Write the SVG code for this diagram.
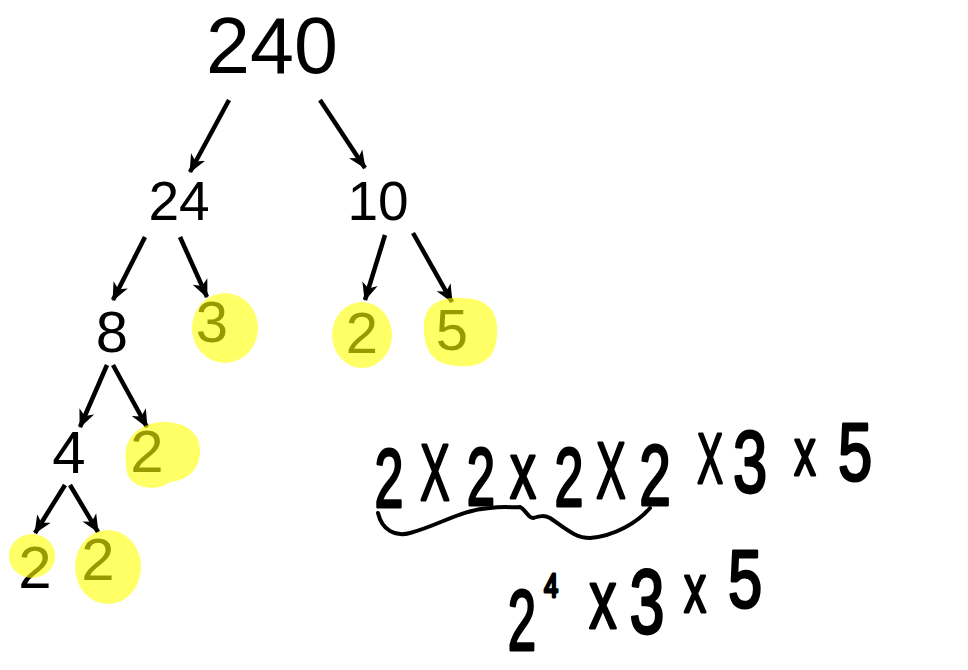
<svg xmlns="http://www.w3.org/2000/svg" width="968" height="670" viewBox="0 0 968 670">
<defs>
<style>
.num{font-family:"Liberation Sans",Arial,sans-serif;fill:#000;text-anchor:middle}
.hl{fill:#ffff00;opacity:0.6}
.edge{stroke:#000;stroke-width:4.5;fill:none;marker-end:url(#ah)}
.hw{font-family:"Liberation Sans",Arial,sans-serif;fill:#000;stroke:#000;stroke-width:2.8;stroke-linejoin:round;text-anchor:middle}
</style>
<marker id="ah" markerUnits="userSpaceOnUse" markerWidth="20" markerHeight="18" refX="17" refY="8" orient="auto" viewBox="0 0 20 16">
<path d="M0,0 L18,8 L0,16 L5,8 z" fill="#000"/>
</marker>
</defs>
<rect width="968" height="670" fill="#fff"/>
<g id="connectors">
<line class="edge" x1="229" y1="100" x2="190" y2="172"/>
<line class="edge" x1="320" y1="100" x2="365" y2="168"/>
<line class="edge" x1="145" y1="237" x2="113" y2="300"/>
<line class="edge" x1="180" y1="237" x2="207" y2="297"/>
<line class="edge" x1="385" y1="235" x2="365" y2="300"/>
<line class="edge" x1="413" y1="233" x2="452" y2="302"/>
<line class="edge" x1="107" y1="365" x2="80" y2="427"/>
<line class="edge" x1="113" y1="365" x2="147" y2="427"/>
<line class="edge" x1="65" y1="485" x2="35" y2="533"/>
<line class="edge" x1="70" y1="485" x2="98" y2="532"/>
</g>
<g id="n240"><text class="num" x="272" y="73" font-size="79">240</text></g>
<g id="n24"><text class="num" x="179" y="220" font-size="55">24</text></g>
<g id="n10"><text class="num" x="378" y="220" font-size="55">10</text></g>
<g id="n8"><text class="num" x="112" y="352" font-size="58">8</text></g>
<g id="n3"><text class="num" x="212" y="342" font-size="58">3</text><ellipse class="hl" cx="225" cy="328" rx="33" ry="35"/></g>
<g id="n2a"><text class="num" x="362" y="353" font-size="58">2</text><ellipse class="hl" cx="362" cy="335" rx="30" ry="33"/></g>
<g id="n5"><text class="num" x="452" y="350" font-size="58">5</text><path class="hl" d="M424,330 C422,305 440,296 462,298 C488,298 499,312 497,335 C496,358 482,368 458,366 C434,365 425,352 424,330 Z"/></g>
<g id="n4"><text class="num" x="69" y="473" font-size="60">4</text></g>
<g id="n2b"><text class="num" x="147" y="472" font-size="60">2</text><path class="hl" d="M126,462 C122,438 140,423 162,422 C185,421 201,433 200,452 C199,470 188,480 170,482 C160,490 140,490 131,480 C127,475 126,470 126,462 Z"/></g>
<g id="n2c"><text class="num" x="35" y="588" font-size="60">2</text><ellipse class="hl" cx="32" cy="556" rx="23" ry="22"/></g>
<g id="n2d"><text class="num" x="98" y="580" font-size="60">2</text><ellipse class="hl" cx="108" cy="567" rx="33" ry="37"/></g>
<g id="expanded">
<text class="hw" transform="translate(389,507) scale(0.62,1)" font-size="84">2</text>
<text class="hw" transform="translate(435,500) scale(0.55,1)" font-size="80">X</text>
<text class="hw" transform="translate(481,505) scale(0.62,1)" font-size="82">2</text>
<text class="hw" transform="translate(523,498) scale(0.65,1)" font-size="80">x</text>
<text class="hw" transform="translate(569,506) scale(0.62,1)" font-size="84">2</text>
<text class="hw" transform="translate(611,498) scale(0.55,1)" font-size="80">X</text>
<text class="hw" transform="translate(655,505) scale(0.66,1)" font-size="86">2</text>
<text class="hw" transform="translate(710,483) scale(0.55,1)" font-size="70">X</text>
<text class="hw" transform="translate(750,492) scale(0.7,1)" font-size="88">3</text>
<text class="hw" transform="translate(805,475) scale(0.65,1)" font-size="66">x</text>
<text class="hw" transform="translate(855,480) scale(0.75,1)" font-size="82">5</text>
<path d="M378,513 C382,530 395,537 410,533 C440,525 460,510 490,508 C505,506 515,508 520,507 C526,510 528,518 533,518 C540,516 544,515 550,518 C565,528 575,538 590,538 C615,536 638,522 650,508" fill="none" stroke="#000" stroke-width="4" stroke-linecap="round"/>
</g>
<g id="simplified">
<text class="hw" transform="translate(522,650) scale(0.6,1)" font-size="85">2</text>
<text class="hw" transform="translate(551,597) scale(0.75,1)" font-size="34">4</text>
<text class="hw" transform="translate(603,628) scale(0.65,1)" font-size="84">x</text>
<text class="hw" transform="translate(647,633) scale(0.7,1)" font-size="90">3</text>
<text class="hw" transform="translate(695,612) scale(0.65,1)" font-size="68">x</text>
<text class="hw" transform="translate(745,607) scale(0.75,1)" font-size="82">5</text>
</g>
</svg>
